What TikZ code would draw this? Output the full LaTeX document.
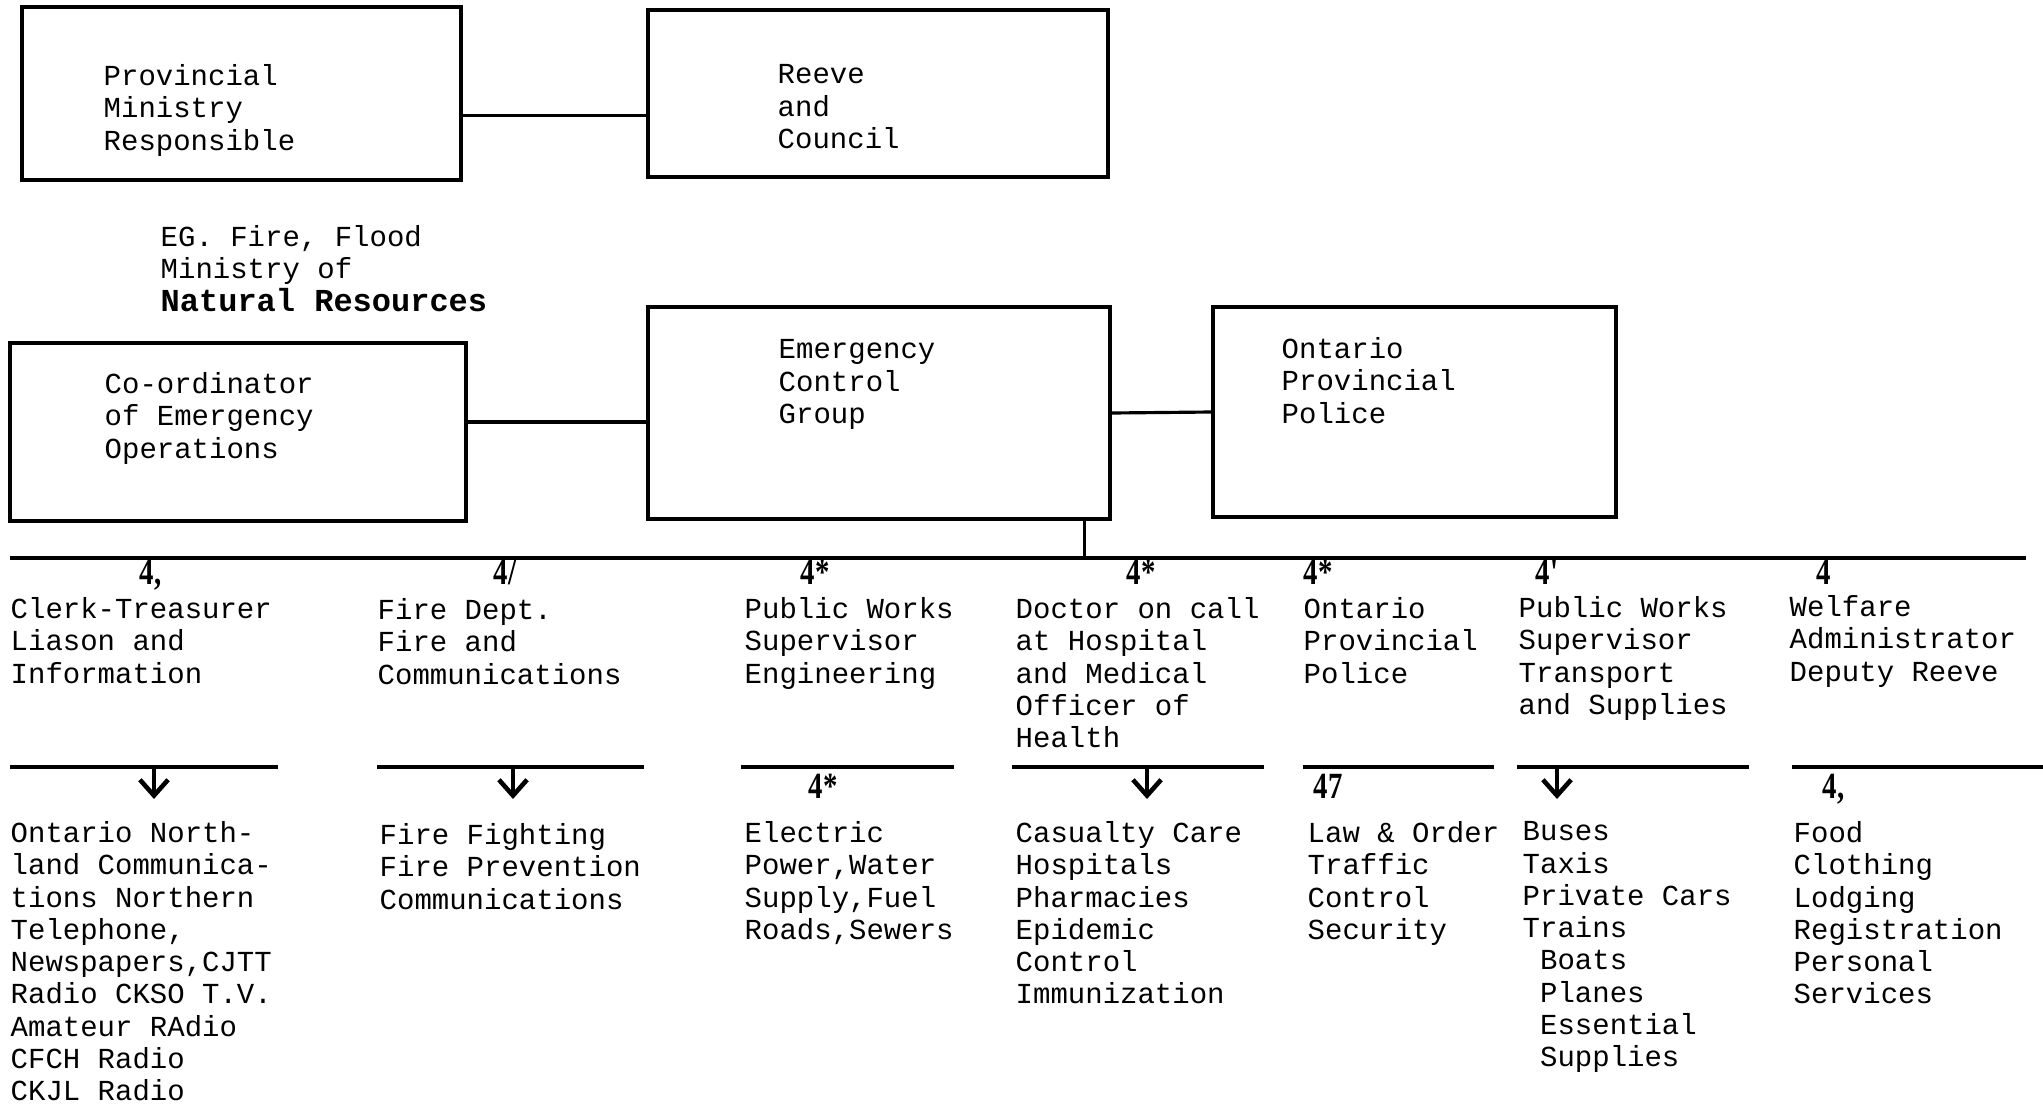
\documentclass[tikz,border=0pt]{standalone}
\usepackage{fontspec}
\newfontfamily\typefont{Liberation Mono}
\newfontfamily\numfont[FakeStretch=0.78]{Liberation Serif}
\usetikzlibrary{arrows.meta, calc}

\begin{document}
\begin{tikzpicture}[x=0.01cm, y=-0.01cm,
      blk/.style={draw, line width=1pt, inner sep=0pt},
      txt/.style={font=\typefont\fontsize{8.25}{9.17}\selectfont,
                  align=left, anchor=north west, inner sep=0pt},
      num/.style={font=\numfont\bfseries\fontsize{10.5}{11}\selectfont,
                  anchor=base west, inner sep=0pt},
      bar/.style={line width=0.9pt},
      arr/.style={line width=1.3pt, -{Straight Barb[length=4.5pt, width=8pt]}}]
      \path[fill=white, use as bounding box] (0,0) rectangle (2043,1109);
      % Ministry and council
      \node[blk, minimum width=4.39cm, minimum height=1.73cm] (pmr) at (241.5,93.5) {};
      \node[txt] (pmrt) at (103,64) {Provincial\\Ministry\\Responsible};
      \node[blk, minimum width=4.60cm, minimum height=1.67cm] (reeve) at (878,93.5) {};
      \node[txt] (reevet) at (777,64) {Reeve\\and\\Council};
      \draw[bar] ($(pmr.east)+(0,22)$) -- ($(reeve.west)+(0,22)$);
      % Note
      \node[txt] (eg) at (160,225)
        {EG. Fire, Flood\\Ministry of\\{\fontsize{9.1}{9.17}\selectfont\bfseries Natural Resources}};
      % Control group
      \node[blk, minimum width=4.56cm, minimum height=1.78cm] (coord) at (238,432) {};
      \node[txt] (coordt) at (104,372) {Co-ordinator\\of Emergency\\Operations};
      \node[blk, minimum width=4.62cm, minimum height=2.12cm] (ecg) at (879,413) {};
      \node[txt] (ecgt) at (778,339) {Emergency\\Control\\Group};
      \node[blk, minimum width=4.03cm, minimum height=2.10cm] (opp) at (1414.5,412) {};
      \node[txt] (oppt) at (1281,337) {Ontario\\Provincial\\Police};
      \coordinate (c1) at ($(coord.east)+(0,-10)$);
      \draw[bar] (c1) -- (c1 -| ecg.west);
      \draw[bar] (ecg.east) -- (opp.west);
      % Bus line
      \coordinate (busL) at (10,558);
      \coordinate (busR) at (2026,558);
      \coordinate (drop) at ($(ecg.south east)+(-27,0)$);
      \draw[bar] (busL) -- (busR);
      \draw[bar] (drop) -- (drop |- busL);
      % Services
      \node[num] (n1) at (139,584) {4,};
      \node[num] (n2) at (493,584) {4/};
      \node[num] (n3) at (800,584) {4*};
      \node[num] (n4) at (1126,584) {4*};
      \node[num] (n5) at (1303,584) {4*};
      \node[num] (n6) at (1535,584) {4'};
      \node[num] (n7) at (1816,584) {4};
      \node[txt] (h1) at (10,597) {Clerk-Treasurer\\Liason and\\Information};
      \node[txt] (h2) at (377,598) {Fire Dept.\\Fire and\\Communications};
      \node[txt] (h3) at (744,597) {Public Works\\Supervisor\\Engineering};
      \node[txt] (h4) at (1015,597) {Doctor on call\\at Hospital\\and Medical\\Officer of\\Health};
      \node[txt] (h5) at (1303,597) {Ontario\\Provincial\\Police};
      \node[txt] (h6) at (1518,596) {Public Works\\Supervisor\\Transport\\and Supplies};
      \node[txt] (h7) at (1789,595) {Welfare\\Administrator\\Deputy Reeve};
      % Resources
      \foreach \a/\b in {10/278, 377/644, 741/954, 1012/1264, 1303/1494, 1517/1749, 1792/2043}
        \draw[bar] (\a,767) -- (\b,767);
      \foreach \x in {154,513,1147,1557}
        \draw[arr] (\x,767) -- (\x,799);
      \node[num] (m3) at (808,798) {4*};
      \node[num] (m5) at (1313,798) {47};
      \node[num] (m7) at (1822,798) {4,};
      \node[txt] (l1) at (10,821) {Ontario North-\\land Communica-\\tions Northern\\Telephone,\\Newspapers,CJTT\\Radio CKSO T.V.\\Amateur RAdio\\CFCH Radio\\CKJL Radio};
      \node[txt] (l2) at (379,823) {Fire Fighting\\Fire Prevention\\Communications};
      \node[txt] (l3) at (744,821) {Electric\\Power,Water\\Supply,Fuel\\Roads,Sewers};
      \node[txt] (l4) at (1015,821) {Casualty Care\\Hospitals\\Pharmacies\\Epidemic\\Control\\Immunization};
      \node[txt] (l5) at (1307,821) {Law \& Order\\Traffic\\Control\\Security};
      \node[txt] (l6) at (1522,821) {Buses\\Taxis\\Private Cars\\Trains\\\hphantom{B}Boats\\\hphantom{B}Planes\\\hphantom{B}Essential\\\hphantom{B}Supplies};
      \node[txt] (l7) at (1793,821) {Food\\Clothing\\Lodging\\Registration\\Personal\\Services};
    \end{tikzpicture}
\end{document}
